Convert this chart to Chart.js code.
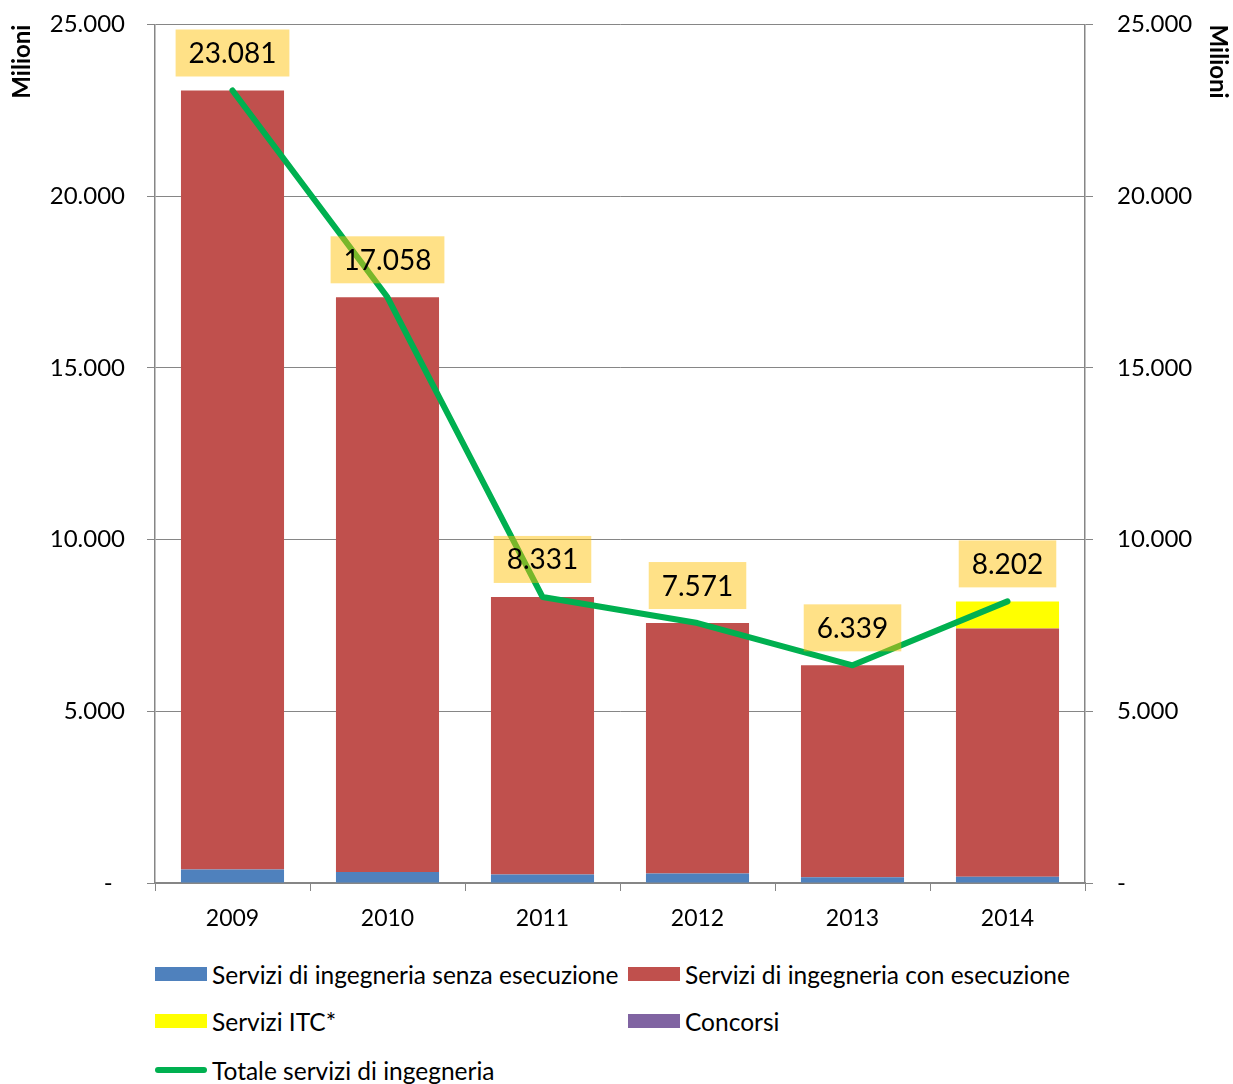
<!DOCTYPE html>
<html lang="it">
<head>
<meta charset="utf-8">
<title>Servizi di ingegneria</title>
<script src="https://cdn.jsdelivr.net/npm/chart.js@4.4.1/dist/chart.umd.min.js"></script>
<style>
    html, body { margin: 0; padding: 0; background: #fff; }
    #wrap { position: relative; width: 1233px; height: 1084px; font-family: Lato, sans-serif; }
    #chart { position: absolute; left: 0; top: 0; }
    .legend-item { position: absolute; display: flex; align-items: center; font-size: 24.5px; color: #000; white-space: nowrap; }
    .legend-box { width: 52px; height: 14px; margin-right: 5px; }
    .legend-line { width: 52px; height: 6px; border-radius: 3px; margin-right: 5px; }
</style>
</head>
<body>
<div id="wrap">
    <canvas id="chart" width="1233" height="940"></canvas>
    <div id="legend"></div>
</div>
<script>
const years = ["2009", "2010", "2011", "2012", "2013", "2014"];
const senzaEsecuzione = [390, 320, 250, 280, 165, 185];
const conEsecuzione = [22691, 16738, 8081, 7291, 6174, 7228];
const serviziITC = [0, 0, 0, 0, 0, 789];
const concorsi = [0, 0, 0, 0, 0, 0];
const totale = [23081, 17058, 8331, 7571, 6339, 8202];

const yMax = 25000;
const yStep = 5000;

function formatIt(v) {
    if (v === 0) return "-  ";
    return String(v).replace(/\B(?=(\d{3})+(?!\d))/g, ".");
}

Chart.defaults.font.family = "Lato, sans-serif";
Chart.defaults.color = "#000";

// etichette gialle sopra la linea del totale
const totalLabels = {
    id: "totalLabels",
    afterDatasetsDraw(chart) {
        const ctx = chart.ctx;
        const idx = chart.data.datasets.findIndex(d => d.type === "line");
        const meta = chart.getDatasetMeta(idx);
        ctx.save();
        ctx.font = "28px Lato, sans-serif";
        ctx.textAlign = "center";
        ctx.textBaseline = "middle";
        meta.data.forEach((pt, i) => {
            const text = formatIt(chart.data.datasets[idx].data[i]);
            const w = ctx.measureText(text).width + 26;
            const h = 47;
            const bottom = pt.y - 14;
            ctx.fillStyle = "rgba(255, 192, 0, 0.47)";
            ctx.fillRect(pt.x - w / 2, bottom - h, w, h);
            ctx.fillStyle = "#000";
            ctx.fillText(text, pt.x, bottom - h / 2 + 1);
        });
        ctx.restore();
    }
};

const gridGray = "#868686";
// lineHeight piccolo: evita che l'etichetta in alto spinga giù l'area del grafico
const tickFont = { size: 24, lineHeight: 0.05 };

const chart = new Chart(document.getElementById("chart").getContext("2d"), {
    type: "bar",
    data: {
        labels: years,
        datasets: [
            { label: "Servizi di ingegneria senza esecuzione", data: senzaEsecuzione, backgroundColor: "#4F81BD", order: 1 },
            { label: "Servizi di ingegneria con esecuzione", data: conEsecuzione, backgroundColor: "#C0504D", order: 1 },
            { label: "Servizi ITC*", data: serviziITC, backgroundColor: "#FFFF00", order: 1 },
            { label: "Concorsi", data: concorsi, backgroundColor: "#8064A2", order: 1 },
            {
                type: "line",
                label: "Totale servizi di ingegneria",
                data: totale,
                borderColor: "#00B050",
                backgroundColor: "#00B050",
                borderWidth: 6,
                borderCapStyle: "round",
                borderJoinStyle: "round",
                pointRadius: 0,
                tension: 0,
                fill: false,
                order: 0
            }
        ]
    },
    options: {
        responsive: false,
        animation: false,
        layout: { padding: { top: 23, left: 0, right: 0, bottom: 0 } },
        datasets: { bar: { categoryPercentage: 1, barPercentage: 0.665 } },
        plugins: {
            legend: { display: false },
            tooltip: { enabled: false }
        },
        scales: {
            x: {
                stacked: true,
                grid: { drawOnChartArea: false, drawTicks: true, tickLength: 8, color: gridGray, offset: true },
                border: { display: true, color: gridGray, width: 1.5 },
                ticks: { font: { size: 23 }, padding: 14 },
                afterFit(scale) { scale.height = 57; }
            },
            y: {
                stacked: true,
                position: "left",
                min: 0,
                max: yMax,
                ticks: { stepSize: yStep, font: tickFont, padding: 22, callback: v => formatIt(v) },
                grid: { color: gridGray, tickLength: 8 },
                border: { display: true, color: gridGray, width: 1.5 },
                title: { display: true, text: "Milioni", align: "end", font: { size: 24, weight: "bold" }, padding: { top: 8, bottom: 0 } },
                afterFit(scale) { scale.width = 155; }
            },
            y1: {
                position: "right",
                min: 0,
                max: yMax,
                ticks: { stepSize: yStep, font: tickFont, padding: 24, callback: v => formatIt(v) },
                grid: { drawOnChartArea: false, color: gridGray, tickLength: 8 },
                border: { display: true, color: gridGray, width: 1.5 },
                title: { display: true, text: "Milioni", align: "end", font: { size: 24, weight: "bold" }, padding: { top: 1, bottom: 0 } },
                afterFit(scale) { scale.width = 148; }
            }
        }
    },
    plugins: [totalLabels]
});

// legenda HTML in due colonne
const legendSlots = [
    { left: 155, top: 974 },
    { left: 628, top: 974 },
    { left: 155, top: 1021 },
    { left: 628, top: 1021 },
    { left: 155, top: 1070 }
];
const legendEl = document.getElementById("legend");
chart.data.datasets.forEach((ds, i) => {
    const slot = legendSlots[i];
    const item = document.createElement("div");
    item.className = "legend-item";
    item.style.left = slot.left + "px";
    item.style.top = (slot.top - 14) + "px";
    item.style.height = "28px";
    const mark = document.createElement("span");
    mark.className = ds.type === "line" ? "legend-line" : "legend-box";
    mark.style.background = ds.type === "line" ? ds.borderColor : ds.backgroundColor;
    const label = document.createElement("span");
    label.textContent = ds.label;
    item.appendChild(mark);
    item.appendChild(label);
    legendEl.appendChild(item);
});
</script>
</body>
</html>
